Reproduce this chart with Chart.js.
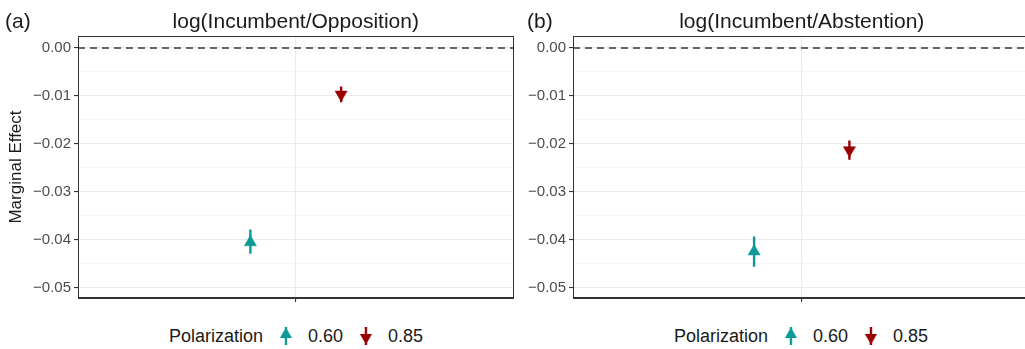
<!DOCTYPE html>
<html>
<head>
<meta charset="utf-8">
<script src="https://cdn.jsdelivr.net/npm/chart.js@4.4.1/dist/chart.umd.min.js"></script>
<style>
    html, body { margin: 0; padding: 0; background: #fff; overflow: hidden; width: 1025px; height: 349px; }
    .panel { position: absolute; top: 0; height: 310px; }
    #panelA { left: 0; width: 521px; }
    #panelB { left: 518px; width: 520px; }
    .legend {
        position: absolute; top: 322px; height: 28px;
        display: flex; align-items: center;
        font-family: "Liberation Sans", Arial, sans-serif; font-size: 18px; color: #1a1a1a;
        transform: translateX(-50%);
        white-space: nowrap;
    }
    .legend canvas { margin: 0 15px 0 0; }
    .legend .ttl { margin-right: 16px; }
    .legend .lbl { margin-right: 16px; }
    .legend .lbl:last-child { margin-right: 0; }
</style>
</head>
<body>
<div class="panel" id="panelA"><canvas id="chartA"></canvas></div>
<div class="panel" id="panelB"><canvas id="chartB"></canvas></div>
<div class="legend" id="legendA" style="left:296px"></div>
<div class="legend" id="legendB" style="left:801px"></div>
<script>
// Data
const panelTitles = ['log(Incumbent/Opposition)', 'log(Incumbent/Abstention)'];
const panelTags = ['(a)', '(b)'];
const polarization = ['0.60', '0.85'];
const seriesColors = ['#0C9A97', '#990000'];

const estA = [-0.0405, -0.0097];
const lowA = [-0.0429, -0.0113];
const highA = [-0.0378, -0.0080];

const estB = [-0.0424, -0.0213];
const lowB = [-0.0456, -0.0233];
const highB = [-0.0393, -0.0193];

const FONT = '"Liberation Sans", Arial, sans-serif';

// draws the border around the panel and the panel title / tag
const panelDecor = {
    id: 'panelDecor',
    afterDraw(chart, args, opts) {
        const { ctx, chartArea } = chart;
        ctx.save();
        ctx.setLineDash([]);
        ctx.strokeStyle = '#333333';
        ctx.lineWidth = 1;
        ctx.strokeRect(Math.round(chartArea.left) + 0.5, Math.round(chartArea.top) + 0.5,
            Math.round(chartArea.right - chartArea.left) - 1, Math.round(chartArea.bottom - chartArea.top) - 1);
        ctx.fillStyle = '#1a1a1a';
        ctx.font = '21px ' + FONT;
        ctx.textBaseline = 'alphabetic';
        ctx.textAlign = 'center';
        ctx.fillText(opts.title, (chartArea.left + chartArea.right) / 2, 28);
        ctx.textAlign = 'left';
        ctx.fillText(opts.tag, opts.tagX, 28);
        ctx.restore();
    }
};

function isMajor(v) {
    return Math.abs(v * 100 - Math.round(v * 100)) < 1e-6;
}

function fmt(v) {
    const s = Math.abs(v).toFixed(2);
    return v < -1e-9 ? '\u2212' + s : s;
}

function buildPanel(canvasId, idx, est, low, high, yWidth, padRight, tagX) {
    const dodge = [-0.125, 0.125];
    const datasets = [];

    // reference line at zero
    datasets.push({
        type: 'line',
        data: [{ x: 0.4, y: 0 }, { x: 1.6, y: 0 }],
        borderColor: '#666666',
        borderWidth: 1.8,
        borderDash: [7, 5],
        pointRadius: 0,
        order: 3
    });

    polarization.forEach((p, i) => {
        const x = 1 + dodge[i];
        // error bar
        datasets.push({
            type: 'line',
            data: [{ x: x, y: low[i] }, { x: x, y: high[i] }],
            borderColor: seriesColors[i],
            borderWidth: 2.4,
            pointRadius: 0,
            order: 2
        });
        // point estimate
        datasets.push({
            type: 'scatter',
            label: p,
            data: [{ x: x, y: est[i] }],
            pointStyle: 'triangle',
            rotation: i === 0 ? 0 : 180,
            pointRadius: 7,
            pointBackgroundColor: seriesColors[i],
            pointBorderColor: seriesColors[i],
            pointBorderWidth: 0.5,
            order: 1
        });
    });

    return new Chart(document.getElementById(canvasId), {
        data: { datasets: datasets },
        plugins: [panelDecor],
        options: {
            responsive: true,
            maintainAspectRatio: false,
            animation: false,
            events: [],
            layout: { padding: { top: 36, right: padRight, bottom: 0, left: 0 } },
            plugins: {
                legend: { display: false },
                tooltip: { enabled: false },
                panelDecor: { title: panelTitles[idx], tag: panelTags[idx], tagX: tagX }
            },
            scales: {
                x: {
                    type: 'linear',
                    min: 0.4,
                    max: 1.6,
                    afterBuildTicks: s => { s.ticks = [{ value: 1 }]; },
                    afterFit: s => { s.height = 8; },
                    ticks: { display: false },
                    grid: { color: '#EBEBEB', lineWidth: 1.1, tickColor: '#333333', tickLength: 4 },
                    border: { display: true, color: '#333333', width: 1 }
                },
                y: {
                    type: 'linear',
                    min: -0.0521,
                    max: 0.0025,
                    afterBuildTicks: s => {
                        const t = [];
                        for (let k = 10; k >= 0; k--) t.push({ value: -k * 0.005 });
                        s.ticks = t;
                    },
                    afterFit: s => { s.width = yWidth; },
                    title: {
                        display: idx === 0,
                        text: 'Marginal Effect',
                        color: '#1a1a1a',
                        font: { family: FONT, size: 17 },
                        padding: { top: 6, bottom: 0 }
                    },
                    ticks: {
                        color: '#4D4D4D',
                        font: { family: FONT, size: 15 },
                        padding: 3,
                        callback: v => isMajor(v) ? fmt(v) : ''
                    },
                    grid: {
                        color: c => isMajor(c.tick.value) ? '#EBEBEB' : '#F3F3F3',
                        lineWidth: c => isMajor(c.tick.value) ? 1.1 : 0.8,
                        tickColor: c => isMajor(c.tick.value) ? '#333333' : 'rgba(0,0,0,0)',
                        tickLength: 4
                    },
                    border: { display: true, color: '#333333', width: 1 }
                }
            }
        }
    });
}

function drawKey(i) {
    const c = document.createElement('canvas');
    c.width = 14; c.height = 24;
    const g = c.getContext('2d');
    g.strokeStyle = seriesColors[i];
    g.fillStyle = seriesColors[i];
    g.lineWidth = 2.4;
    g.beginPath(); g.moveTo(7, 3); g.lineTo(7, 21); g.stroke();
    const r = 7, h = r * Math.sqrt(3) / 2;
    g.beginPath();
    if (i === 0) {
        const cy = 10.5;
        g.moveTo(7, cy - r); g.lineTo(7 + h, cy + r / 2); g.lineTo(7 - h, cy + r / 2);
    } else {
        const cy = 13.5;
        g.moveTo(7, cy + r); g.lineTo(7 + h, cy - r / 2); g.lineTo(7 - h, cy - r / 2);
    }
    g.closePath(); g.fill();
    return c;
}

function buildLegend(id) {
    const el = document.getElementById(id);
    const t = document.createElement('span');
    t.className = 'ttl';
    t.textContent = 'Polarization';
    el.appendChild(t);
    polarization.forEach((p, i) => {
        el.appendChild(drawKey(i));
        const s = document.createElement('span');
        s.className = 'lbl';
        s.textContent = p;
        el.appendChild(s);
    });
}

buildPanel('chartA', 0, estA, lowA, highA, 78, 3, 5);
buildPanel('chartB', 1, estB, lowB, highB, 55, 4, 9);
buildLegend('legendA');
buildLegend('legendB');
</script>
</body>
</html>
